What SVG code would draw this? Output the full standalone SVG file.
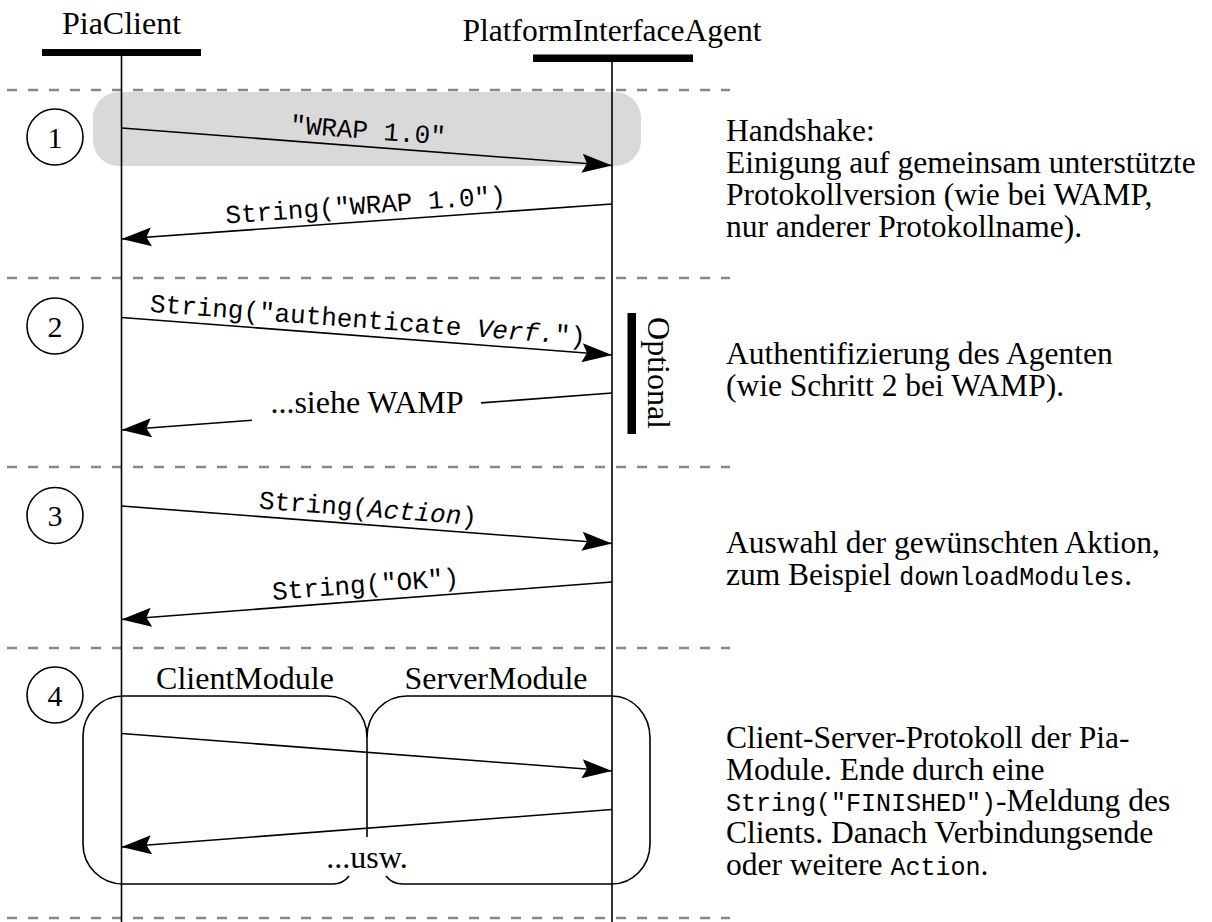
<svg xmlns="http://www.w3.org/2000/svg" width="1212" height="922" viewBox="0 0 1212 922">
<style>
.serif{font-family:"Liberation Serif","Times New Roman",serif;fill:#000}
.mono{font-family:"Liberation Mono","Courier New",monospace;fill:#000}
.note{font-family:"Liberation Serif","Times New Roman",serif;fill:#000;font-size:31.5px}
.life{stroke:#000;stroke-width:1.6;fill:none}
.sep{stroke:#888;stroke-width:2.5;stroke-dasharray:10 11;fill:none}
.msg{stroke:#000;stroke-width:1.6;fill:none}
.box{stroke:#000;stroke-width:1.6;fill:none}
.num{stroke:#000;stroke-width:1.6;fill:#fff}
</style>
<defs>
<marker id="ah" markerUnits="userSpaceOnUse" markerWidth="32" markerHeight="22" refX="30" refY="10" orient="auto">
<path d="M0,0.5 L30,10 L0,19.5 L5,10 z" fill="#000"/>
</marker>
</defs>
<rect x="0" y="0" width="1212" height="922" fill="#fff"/>

<g id="separators">
<line class="sep" x1="7" y1="90" x2="730" y2="90"/>
<line class="sep" x1="7" y1="278" x2="730" y2="278"/>
<line class="sep" x1="7" y1="467" x2="730" y2="467"/>
<line class="sep" x1="7" y1="648" x2="730" y2="648"/>
<line class="sep" x1="7" y1="918" x2="730" y2="918"/>
</g>

<g id="handshake-highlight">
<rect x="93" y="92" width="548" height="74" rx="26" fill="#d9d9d9"/>
</g>

<g id="PiaClient">
<text class="serif" x="121.5" y="34" font-size="32" text-anchor="middle">PiaClient</text>
<rect x="42" y="49" width="159" height="7" fill="#000"/>
<line class="life" x1="121.5" y1="56" x2="121.5" y2="922"/>
</g>

<g id="PlatformInterfaceAgent">
<text class="serif" x="612" y="41" font-size="31.5" text-anchor="middle">PlatformInterfaceAgent</text>
<rect x="533" y="54.5" width="160" height="7.5" fill="#000"/>
<line class="life" x1="612" y1="62" x2="612" y2="922"/>
</g>

<g id="step1">
<circle class="num" cx="55" cy="137" r="28"/>
<text class="serif" x="55" y="147.5" font-size="30" text-anchor="middle">1</text>
</g>
<g id="step2">
<circle class="num" cx="55" cy="326" r="28"/>
<text class="serif" x="55" y="336.5" font-size="30" text-anchor="middle">2</text>
</g>
<g id="step3">
<circle class="num" cx="55" cy="515.5" r="28"/>
<text class="serif" x="55" y="526" font-size="30" text-anchor="middle">3</text>
</g>
<g id="step4">
<circle class="num" cx="55" cy="695" r="28"/>
<text class="serif" x="55" y="705.5" font-size="30" text-anchor="middle">4</text>
</g>

<g id="optional">
<rect x="627.5" y="313" width="8.5" height="121" fill="#000"/>
<text class="serif" font-size="32" text-anchor="middle" transform="translate(648,373) rotate(90)">Optional</text>
</g>

<g id="ClientModule">
<path class="box" d="M349,876 Q343,884 333,884 L123,884 A40,40 0 0 1 83,844 L83,736 A40,40 0 0 1 123,696 L327,696 A40,41 0 0 1 367,737"/>
<text class="serif" x="245" y="689" font-size="32" text-anchor="middle">ClientModule</text>
</g>

<g id="ServerModule">
<path class="box" d="M386,876 Q392,884 403,884 L612,884 A38,40 0 0 0 650,844 L650,738 A38,42 0 0 0 612,696 L407,696 A40,41 0 0 0 367,737"/>
<text class="serif" x="496" y="689" font-size="32" text-anchor="middle">ServerModule</text>
</g>

<g id="module-divider">
<line class="box" x1="367" y1="737" x2="367" y2="837"/>
<text class="serif" x="367" y="868" font-size="32" text-anchor="middle">...usw.</text>
</g>

<g id="connectors">
<line class="msg" x1="121.5" y1="128" x2="612" y2="165.5" marker-end="url(#ah)"/>
<line class="msg" x1="612" y1="204" x2="121.5" y2="239" marker-end="url(#ah)"/>
<line class="msg" x1="121.5" y1="317.5" x2="612" y2="355" marker-end="url(#ah)"/>
<line class="msg" x1="612" y1="393" x2="481" y2="402.9"/>
<line class="msg" x1="252" y1="420.2" x2="121.5" y2="430" marker-end="url(#ah)"/>
<line class="msg" x1="121.5" y1="506" x2="612" y2="543.5" marker-end="url(#ah)"/>
<line class="msg" x1="612" y1="582" x2="121.5" y2="619.5" marker-end="url(#ah)"/>
<line class="msg" x1="121.5" y1="733.5" x2="612" y2="771" marker-end="url(#ah)"/>
<line class="msg" x1="612" y1="809.5" x2="121.5" y2="847" marker-end="url(#ah)"/>
</g>

<g id="connector-labels">
<text class="mono" font-size="26" text-anchor="middle" transform="translate(366.75,146.75) rotate(4.37) translate(0,-8)">"WRAP 1.0"</text>
<text class="mono" font-size="26" text-anchor="middle" transform="translate(366.75,221.5) rotate(-4.08) translate(0,-8)">String("WRAP 1.0")</text>
<text class="mono" font-size="26" text-anchor="middle" transform="translate(366.75,336.25) rotate(4.37) translate(0,-8)">String("authenticate <tspan font-style="italic">Verf.</tspan>")</text>
<text class="serif" x="367" y="413" font-size="32" text-anchor="middle">...siehe WAMP</text>
<text class="mono" font-size="26" text-anchor="middle" transform="translate(366.75,524.75) rotate(4.37) translate(0,-8)">String(<tspan font-style="italic">Action</tspan>)</text>
<text class="mono" font-size="26" text-anchor="middle" transform="translate(366.75,600.75) rotate(-4.37) translate(0,-8)">String("OK")</text>
</g>

<g id="note1">
<text class="note" x="726" y="141">Handshake:</text>
<text class="note" x="726" y="173">Einigung auf gemeinsam unterstützte</text>
<text class="note" x="726" y="205">Protokollversion (wie bei WAMP,</text>
<text class="note" x="726" y="237">nur anderer Protokollname).</text>
</g>
<g id="note2">
<text class="note" x="726" y="364">Authentifizierung des Agenten</text>
<text class="note" x="726" y="396">(wie Schritt 2 bei WAMP).</text>
</g>
<g id="note3">
<text class="note" x="726" y="553">Auswahl der gewünschten Aktion,</text>
<text class="note" x="726" y="585">zum Beispiel <tspan class="mono" font-size="25">downloadModules</tspan>.</text>
</g>
<g id="note4">
<text class="note" x="726" y="748">Client-Server-Protokoll der Pia-</text>
<text class="note" x="726" y="780">Module. Ende durch eine</text>
<text class="note" x="726" y="811"><tspan class="mono" font-size="25">String("FINISHED")</tspan>-Meldung des</text>
<text class="note" x="726" y="843">Clients. Danach Verbindungsende</text>
<text class="note" x="726" y="875">oder weitere <tspan class="mono" font-size="25">Action</tspan>.</text>
</g>
</svg>
